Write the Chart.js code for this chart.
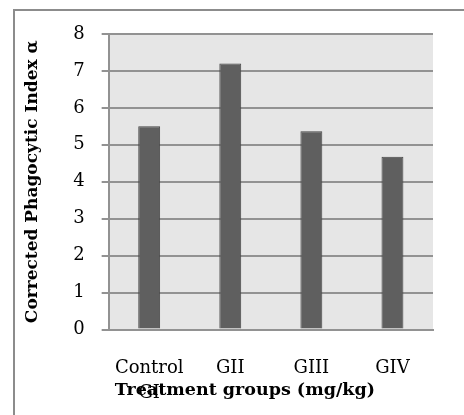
<!DOCTYPE html>
<html>
<head>
<meta charset="utf-8">
<script src="https://cdn.jsdelivr.net/npm/chart.js@4/dist/chart.umd.min.js"></script>
<style>
  body { margin: 0; background: #fff; }
  #wrap { width: 464px; height: 415px; }
</style>
</head>
<body>
<div id="wrap"><canvas id="phagoChart" width="464" height="415"></canvas></div>
<script>
const groups = [['Control', 'GI'], 'GII', 'GIII', 'GIV'];
const indexValues = [5.5, 7.2, 5.37, 4.68];
const yTicks = [0, 1, 2, 3, 4, 5, 6, 7, 8];

const gridGray = '#929292';

// light gray plot area + the frame lines at top and left
const frame = {
  id: 'frame',
  beforeDraw(chart) {
    const ctx = chart.ctx;
    const a = chart.chartArea;
    ctx.save();
    ctx.fillStyle = '#e6e6e6';
    ctx.fillRect(a.left, a.top, a.right - a.left, a.bottom - a.top);
    ctx.strokeStyle = '#8c8c8c';
    ctx.lineWidth = 2;
    ctx.beginPath();
    ctx.moveTo(14, 420);
    ctx.lineTo(14, 10);
    ctx.lineTo(470, 10);
    ctx.stroke();
    ctx.restore();
  }
};

const ctx = document.getElementById('phagoChart').getContext('2d');
new Chart(ctx, {
  type: 'bar',
  data: {
    labels: groups,
    datasets: [{
      data: indexValues,
      backgroundColor: '#5f5f5f',
      borderColor: '#454545',
      borderWidth: 1,
      barPercentage: 0.27,
      categoryPercentage: 1
    }]
  },
  plugins: [frame],
  options: {
    responsive: false,
    animation: false,
    layout: { padding: { top: 34, right: 31, bottom: 14, left: 22 } },
    plugins: {
      legend: { display: false },
      tooltip: { enabled: false }
    },
    scales: {
      x: {
        grid: { display: false, drawTicks: false },
        border: { display: true, color: gridGray, width: 2 },
        ticks: {
          color: '#000',
          padding: 26,
          maxRotation: 0,
          font: { family: 'DejaVu Serif', size: 18, lineHeight: 1.4 }
        },
        // negative top padding lets the title sit over the second label line, as in the original
        title: {
          display: true,
          text: '\u00a0Treatment groups (mg/kg)',
          align: 'start',
          color: '#000',
          padding: { top: -51.9, bottom: 0 },
          font: { family: 'DejaVu Serif', size: 17.5, weight: 'bold', lineHeight: 1.2 }
        }
      },
      y: {
        min: 0,
        max: 8,
        afterBuildTicks(axis) {
          axis.ticks = yTicks.map(v => ({ value: v }));
        },
        grid: { color: gridGray, lineWidth: 2, tickLength: 7 },
        border: { display: true, color: gridGray, width: 2 },
        ticks: {
          color: '#000',
          padding: 17,
          font: { family: 'DejaVu Serif', size: 18, lineHeight: 1.2 }
        },
        title: {
          display: true,
          text: 'Corrected Phagocytic Index α',
          color: '#000',
          padding: { top: 0, bottom: 13.8 },
          font: { family: 'DejaVu Serif', size: 17, weight: 'bold', lineHeight: 1.2 }
        }
      }
    }
  }
});
</script>
</body>
</html>
